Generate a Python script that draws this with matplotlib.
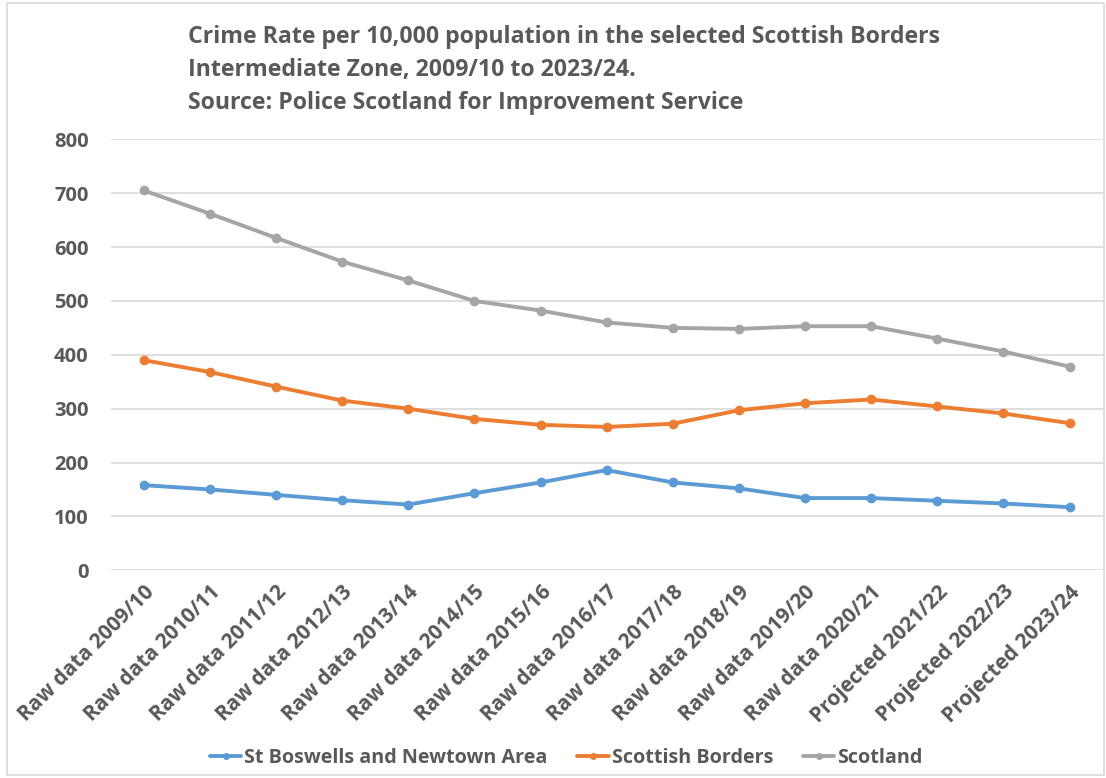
import matplotlib
matplotlib.use("Agg")
import matplotlib.pyplot as plt
from matplotlib.patches import Rectangle

categories = ["Raw data 2009/10", "Raw data 2010/11", "Raw data 2011/12", "Raw data 2012/13",
              "Raw data 2013/14", "Raw data 2014/15", "Raw data 2015/16", "Raw data 2016/17",
              "Raw data 2017/18", "Raw data 2018/19", "Raw data 2019/20", "Raw data 2020/21",
              "Projected 2021/22", "Projected 2022/23", "Projected 2023/24"]
st_boswells = [158, 150, 140, 130, 122, 143, 163, 186, 163, 152, 134, 134, 129, 124, 117]
borders = [390, 368, 341, 315, 300, 281, 270, 266, 272, 297, 310, 317, 304, 291, 273]
scotland = [705, 662, 617, 573, 538, 500, 482, 460, 450, 448, 453, 453, 430, 406, 378]
series_names = ["St Boswells and Newtown Area", "Scottish Borders", "Scotland"]
colors = ["#5B9BD5", "#ED7D31", "#A5A5A5"]
yticks = [0, 100, 200, 300, 400, 500, 600, 700, 800]

body_font = ["Open Sans", "DejaVu Sans"]
txt = "#595959"

fig = plt.figure(figsize=(11.06, 7.78), dpi=100)
fig.patches.append(Rectangle((0.006, 0.004), 0.992, 0.992, transform=fig.transFigure,
                             fill=False, edgecolor="#D9D9D9", linewidth=1.2))
ax = fig.add_axes([0.100, 0.267, 0.897, 0.554])

x = list(range(len(categories)))
for vals, name, c in zip([st_boswells, borders, scotland], series_names, colors):
    ax.plot(x, vals, color=c, linewidth=2.8, marker="o", markersize=6, label=name,
            solid_capstyle="round")

ax.set_xlim(-0.5, len(categories) - 0.5)
ax.set_ylim(0, 800)
ax.set_yticks(yticks)
ax.set_yticklabels([str(v) for v in yticks], fontsize=14.5, fontweight="bold",
                   color=txt, family=body_font)
ax.set_xticks(x)
ax.set_xticklabels(categories, rotation=45, ha="right", rotation_mode="anchor",
                   fontsize=15, fontweight="bold", color=txt, family=body_font)
ax.tick_params(axis="both", length=0)
ax.tick_params(axis="y", pad=16)
ax.tick_params(axis="x", pad=8)
ax.grid(axis="y", color="#D9D9D9", linewidth=1.2)
ax.set_axisbelow(True)
for s in ax.spines.values():
    s.set_visible(False)

fig.text(0.170, 0.968, "Crime Rate per 10,000 population in the selected Scottish Borders\n"
         "Intermediate Zone, 2009/10 to 2023/24.\nSource: Police Scotland for Improvement Service",
         ha="left", va="top", fontsize=16.7, fontweight="bold", color=txt,
         family=body_font, linespacing=1.5)

leg = fig.legend(loc="center", bbox_to_anchor=(0.512, 0.026), ncol=3, frameon=False,
                 handlelength=1.6, columnspacing=1.5, handletextpad=0.15,
                 prop={"family": body_font, "weight": "bold", "size": 14.2})
for t in leg.get_texts():
    t.set_color(txt)
for h in leg.legend_handles:
    h.set_markersize(4)
    h.set_linewidth(2.8)

fig.savefig("out.png", dpi=100)
